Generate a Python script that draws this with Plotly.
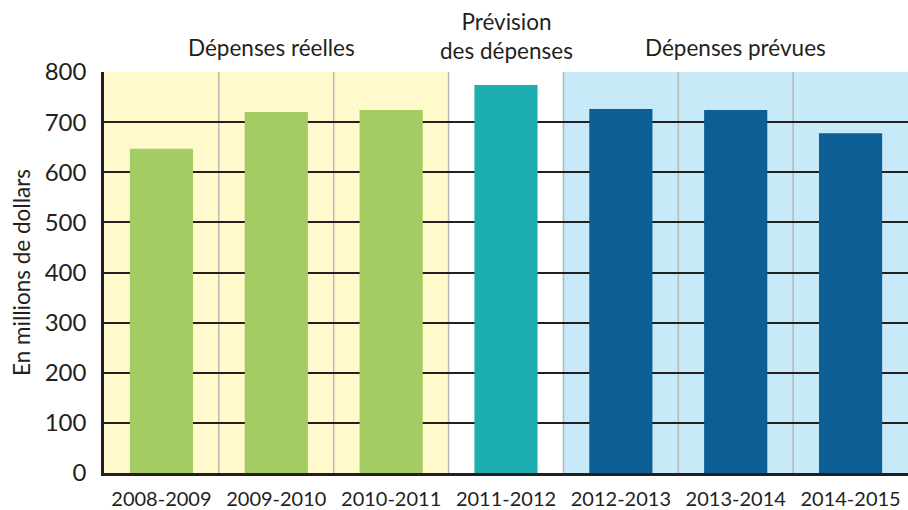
import plotly.graph_objects as go

categories = ["2008-2009", "2009-2010", "2010-2011", "2011-2012", "2012-2013", "2013-2014", "2014-2015"]
values = [647, 720, 724, 774, 726, 724, 678]
bar_colors = ["#A3CD62", "#A3CD62", "#A3CD62", "#1DAFAF", "#0D5E94", "#0D5E94", "#0D5E94"]
y_ticks = [0, 100, 200, 300, 400, 500, 600, 700, 800]
group_labels = ["Dépenses réelles", "Prévision<br>des dépenses", "Dépenses prévues"]

FONT = "Lato"
TXT = "#231F20"

fig = go.Figure()
fig.add_trace(go.Bar(x=list(range(len(categories))), y=values, marker=dict(color=bar_colors, line=dict(width=0)),
                     width=0.55, hoverinfo="skip"))

shapes = []
shapes.append(dict(type="rect", xref="x", yref="paper", x0=-0.5, x1=2.5, y0=0, y1=1,
                   fillcolor="#FFF9CC", line=dict(width=0), layer="below"))
shapes.append(dict(type="rect", xref="x", yref="paper", x0=3.5, x1=6.5, y0=0, y1=1,
                   fillcolor="#C7E9F8", line=dict(width=0), layer="below"))
for b in [0.5, 1.5, 2.5, 3.5, 4.5, 5.5]:
    shapes.append(dict(type="line", xref="x", yref="paper", x0=b, x1=b, y0=0, y1=1,
                       line=dict(color="#B8B8B8", width=1.5), layer="below"))

label_pos = [(0.96, 48), (3, 36), (5, 48)]
annots = []
for (gx, gy), txt in zip(label_pos, group_labels):
    annots.append(dict(x=gx, xref="x", y=(473 - gy) / 401,
                       yref="paper", text=txt, showarrow=False,
                       font=dict(family=FONT, size=22.5, color=TXT), yanchor="middle", xanchor="center"))

fig.update_layout(
    width=908, height=510,
    margin=dict(l=104, r=0, t=72, b=37, pad=0),
    paper_bgcolor="white", plot_bgcolor="white",
    showlegend=False, bargap=0.45,
    shapes=shapes, annotations=annots,
    font=dict(family=FONT, color=TXT),
)
fig.update_xaxes(range=[-0.5, 6.5], tickmode="array", tickvals=list(range(len(categories))),
                 ticktext=categories, showgrid=False, showline=True, linecolor="#231F20", linewidth=2.5,
                 ticks="", tickfont=dict(family=FONT, size=20, color=TXT), zeroline=False,
                 ticklabelstandoff=6)
fig.update_yaxes(range=[0, 800], tickmode="array", tickvals=y_ticks, showgrid=True,
                 gridcolor="#231F20", gridwidth=1.8, showline=True, linecolor="#231F20", linewidth=2.5,
                 ticks="", tickfont=dict(family=FONT, size=24, color=TXT), zeroline=False,
                 ticklabelstandoff=10,
                 title=dict(text="En millions de dollars", font=dict(family=FONT, size=22.5, color=TXT), standoff=8))

fig.write_html("out.html")
